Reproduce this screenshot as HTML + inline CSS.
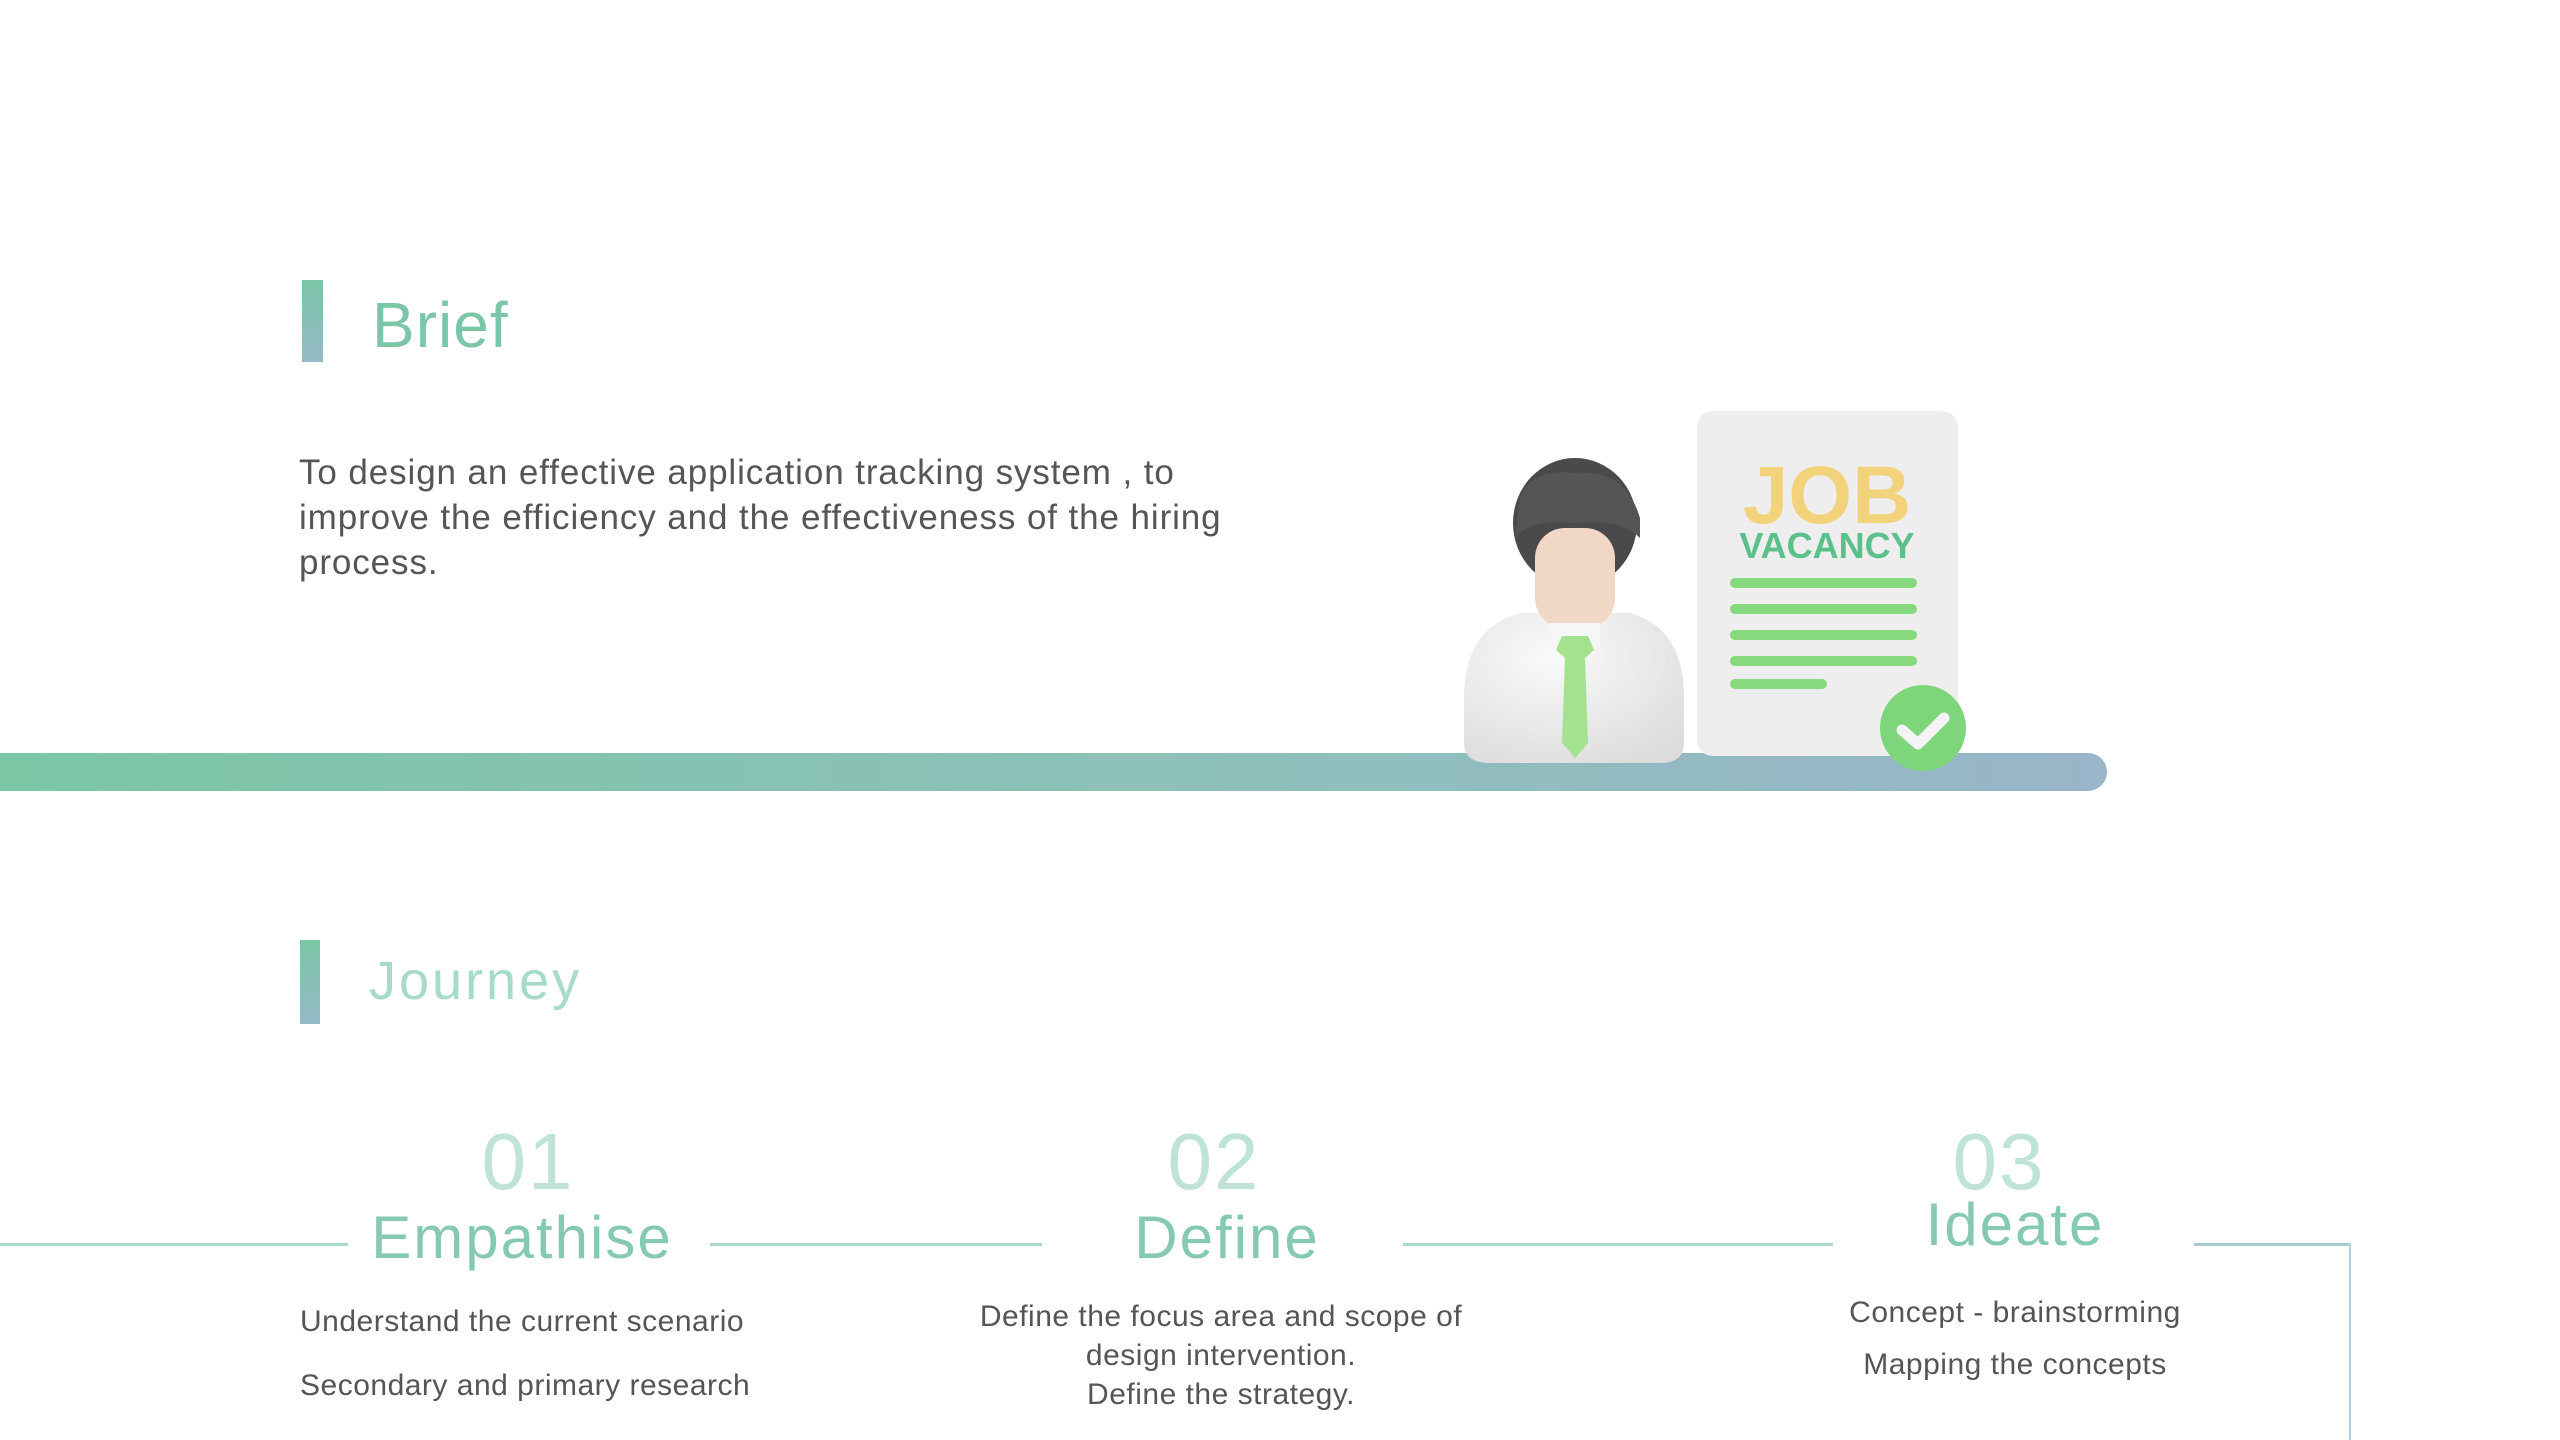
<!DOCTYPE html>
<html><head><meta charset="utf-8"><style>
body{margin:0;width:2560px;height:1440px;background:#fff;position:relative;overflow:hidden;font-family:"Liberation Sans",sans-serif}
.a{position:absolute;white-space:nowrap}
.ttl{color:#7cc6a8;font-size:64px;letter-spacing:1px}
.p{color:#555;font-size:35px;line-height:45px;letter-spacing:0.9px}
.num{color:#bfe4d6;font-size:80px;font-weight:300;transform:translateX(-50%);letter-spacing:2px}
.st{color:#86c9b1;font-size:60px;transform:translateX(-50%);letter-spacing:2px}
.d{color:#555;font-size:30px;letter-spacing:0.5px}
.c{transform:translateX(-50%);text-align:center}
.ln{position:absolute;height:3px;background:#a8d9c9;top:1243px}
</style></head><body>
<div class="a" style="left:302px;top:280px;width:21px;height:82px;background:linear-gradient(#7cc6a8,#95b9c6)"></div>
<div class="a ttl" style="left:372px;top:288px">Brief</div>
<div class="a p" style="left:299px;top:450px">To design an effective application tracking system , to<br>improve the efficiency and the effectiveness of the hiring<br>process.</div>
<div class="a" style="left:0;top:753px;width:2107px;height:38px;border-radius:0 19px 19px 0;background:linear-gradient(90deg,#7cc6a6,#8ebfbb 60%,#98b5c9)"></div>
<svg class="a" style="left:1440px;top:403px" width="540" height="380" viewBox="1440 405 540 380">
<defs><radialGradient id="sh" cx="0.4" cy="0.3" r="0.8"><stop offset="0" stop-color="#fafafa"/><stop offset="1" stop-color="#dcdcdc"/></radialGradient></defs>
<rect x="1697" y="413" width="261" height="345" rx="16" fill="#eeeeee"/>
<text x="1827" y="525" text-anchor="middle" font-family="Liberation Sans" font-weight="bold" font-size="82" fill="#f2d27a">JOB</text>
<text x="1827" y="560" text-anchor="middle" font-family="Liberation Sans" font-weight="bold" font-size="36" fill="#5cc08a">VACANCY</text>
<g stroke="#86d97c" stroke-width="10" stroke-linecap="round">
<line x1="1735" y1="585" x2="1912" y2="585"/><line x1="1735" y1="611" x2="1912" y2="611"/><line x1="1735" y1="637" x2="1912" y2="637"/><line x1="1735" y1="663" x2="1912" y2="663"/><line x1="1735" y1="686" x2="1822" y2="686"/></g>
<circle cx="1923" cy="730" r="43" fill="#7fd67a"/>
<path d="M1902 732 L1918 746 L1944 720" stroke="#f4f4f4" stroke-width="11" fill="none" stroke-linecap="round" stroke-linejoin="round"/>
<path d="M1464 700 Q1464 630 1520 615 L1630 615 Q1684 630 1684 700 L1684 745 Q1684 765 1660 765 L1490 765 Q1464 765 1464 745 Z" fill="url(#sh)"/>
<ellipse cx="1575" cy="525" rx="62" ry="65" fill="#4a4a4a"/>
<rect x="1535" y="530" width="80" height="100" rx="30" fill="#f0d7c6"/>
<path d="M1520 500 Q1530 470 1575 475 Q1625 470 1640 520 L1640 540 Q1620 520 1575 525 Q1530 520 1515 540 Z" fill="#555"/>
<path d="M1550 625 L1600 625 L1600 650 L1550 650Z" fill="#f6f6f6"/>
<path d="M1562 638 L1588 638 L1594 652 L1585 660 L1588 745 L1575 760 L1562 745 L1565 660 L1556 652Z" fill="#a5e28f"/>
</svg>
<div class="a" style="left:300px;top:940px;width:20px;height:84px;background:linear-gradient(#7cc6a8,#95b9c6)"></div>
<div class="a ttl" style="left:369px;top:950px;color:#a6dcc6;font-size:54px;letter-spacing:3px">Journey</div>
<div class="ln" style="left:0;width:348px"></div>
<div class="ln" style="left:710px;width:332px"></div>
<div class="ln" style="left:1403px;width:430px"></div>
<div class="ln" style="left:2194px;width:157px;background:#a9c9d5"></div>
<div class="a" style="left:2349px;top:1243px;width:2px;height:197px;background:#b6d0dc"></div>
<div class="a num" style="left:528px;top:1116px">01</div>
<div class="a st" style="left:522px;top:1203px">Empathise</div>
<div class="a num" style="left:1214px;top:1116px">02</div>
<div class="a st" style="left:1227px;top:1203px">Define</div>
<div class="a num" style="left:1999px;top:1116px">03</div>
<div class="a st" style="left:2015px;top:1190px">Ideate</div>
<div class="a d" style="left:300px;top:1305px">Understand the current scenario</div>
<div class="a d" style="left:300px;top:1369px">Secondary and primary research</div>
<div class="a d c" style="left:1221px;top:1297px;line-height:39px">Define the focus area and scope of<br>design intervention.<br>Define the strategy.</div>
<div class="a d c" style="left:2015px;top:1287px;line-height:52px">Concept - brainstorming<br>Mapping the concepts</div>
</body></html>
